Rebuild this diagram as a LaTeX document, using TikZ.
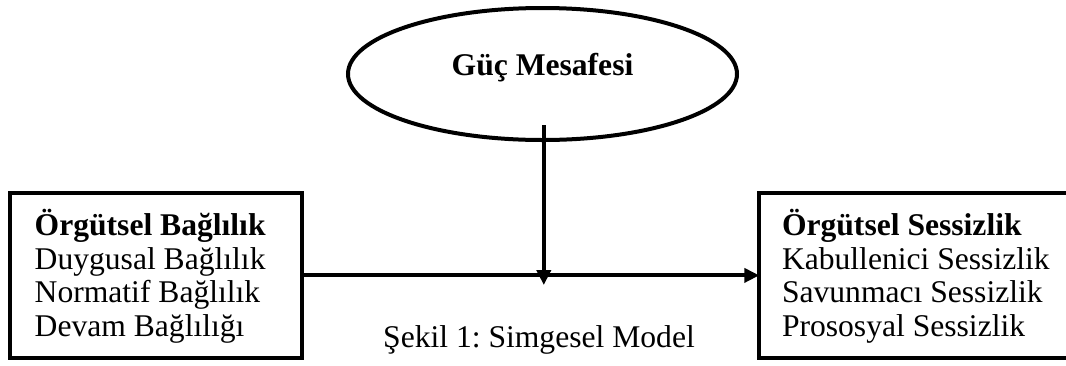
\documentclass[tikz,border=0pt]{standalone}
\usepackage{fontspec}
\setmainfont{Liberation Serif}
\usetikzlibrary{arrows.meta,shapes.geometric,positioning}
\frenchspacing

\begin{document}
\begin{tikzpicture}[
        x=1pt, y=-1pt,
        line width=4pt,
        >={Triangle[length=15pt,width=14pt]},
        every node/.style={
            font=\fontsize{31.6}{33.6}\selectfont
        },
        block/.style={draw, rectangle, minimum width=291.5pt, minimum height=164.2pt, inner sep=0pt, outer sep=0pt},
        blocktext/.style={align=left, inner sep=0pt, anchor=west}
    ]
        \useasboundingbox (0,0) rectangle (1066,365);

        % Moderator
        \node[draw, ellipse, minimum width=389pt, minimum height=132pt, text height=21.4pt, text depth=19.4pt] (power) at (542.5,74) {\textbf{Güç Mesafesi}};

        % Left block
        \node[block, anchor=north west] (commit) at (10.2,193.3) {};
        \node[blocktext] (committext) at ([xshift=22.5pt,yshift=-0.9pt]commit.west) {\textbf{Örgütsel Bağlılık}\\Duygusal Bağlılık\\Normatif Bağlılık\\Devam Bağlılığı};

        % Right block
        \node[block, anchor=north west, minimum width=320pt] (silence) at (759.3,193.3) {};
        \node[blocktext] (silencetext) at ([xshift=20.7pt,yshift=-0.9pt]silence.west) {\textbf{Örgütsel Sessizlik}\\Kabullenici Sessizlik\\Savunmacı Sessizlik\\Prososyal Sessizlik};

        % Arrows
        \coordinate (from) at (543.8,125);
        \coordinate (meet) at (543.8,285);

        \draw[->] (commit.east) -- (silence.west);

        \draw[->] (from) -- (meet);

        % Caption
        \node[anchor=base] (caption) at (539,347) {Şekil 1: Simgesel Model};

    \end{tikzpicture}
\end{document}
